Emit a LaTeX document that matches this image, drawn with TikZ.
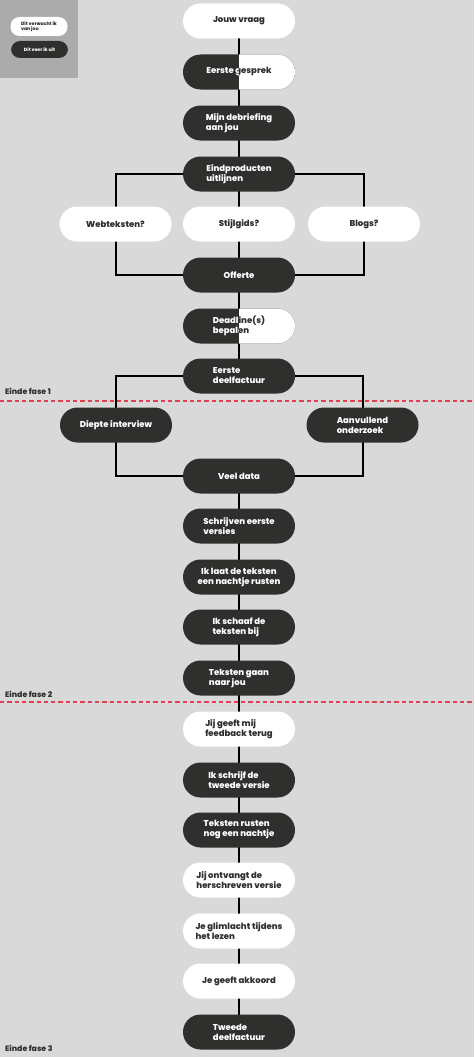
\documentclass[tikz,border=0pt]{standalone}
\usepackage{fontspec}
\setmainfont{Poppins}[BoldFont={Poppins ExtraBold}]
\usetikzlibrary{positioning}
\definecolor{bgc}{HTML}{D9D9D9}
\definecolor{legc}{HTML}{ABABAB}
\definecolor{darkc}{HTML}{2F2F2D}
\definecolor{redc}{HTML}{E0404F}
\pgfdeclarelayer{bglayer}
\pgfdeclarelayer{linelayer}
\pgfsetlayers{bglayer,linelayer,main}
\tikzset{
  pill/.style={rectangle, rounded corners=17.5pt, minimum width=112pt, minimum height=35pt,
    inner sep=0pt, font=\bfseries\fontsize{8.5}{10}\selectfont, align=left},
  darkpill/.style={pill, fill=darkc, text=white},
  whitepill/.style={pill, fill=white, text=darkc},
  conn/.style={draw=black, line width=2pt},
  phase/.style={draw=redc, line width=1.5pt, dash pattern=on 4.3pt off 3pt},
  phaselabel/.style={anchor=west, font=\bfseries\fontsize{7.8}{8}\selectfont, text=darkc, inner sep=0pt},
  legpill/.style={rectangle, rounded corners=9pt, minimum width=57pt, minimum height=18pt,
    inner sep=0pt, font=\bfseries\fontsize{4.6}{5.5}\selectfont, align=left}
}
\begin{document}
\begin{tikzpicture}[x=1pt,y=-1pt]
\useasboundingbox (0,0) rectangle (474,1057);
\begin{pgfonlayer}{bglayer}
  \fill[bgc] (0,0) rectangle (474,1057);
  \fill[legc] (0,0) rectangle (78,78);
\end{pgfonlayer}

% legend
\node[legpill, fill=white, text=darkc, minimum height=19pt] (legwhite) at (39,26.5) {Dit verwacht ik\\van jou};
\node[legpill, fill=darkc, text=white, minimum height=17pt] (legdark) at (39.5,49.5) {Dit voer ik uit};

% main column
\node[whitepill] (vraag) at (239,21) {Jouw vraag};
\node[darkpill] (gesprek) at (239,72) {Eerste gesprek};
\begin{scope}
  \clip (239,0) rectangle (474,1057);
  \node[whitepill] (gesprekR) at (239,72) {Eerste gesprek};
\end{scope}
\node[darkpill] (debrief) at (239,123) {Mijn debriefing\\aan jou};
\node[darkpill] (eind) at (239,174) {Eindproducten\\uitlijnen};
\node[whitepill] (web) at (115.5,224) {Webteksten?};
\node[whitepill] (stijl) at (239,224) {Stijlgids?};
\node[whitepill] (blogs) at (364,224) {Blogs?};
\node[darkpill] (offerte) at (239,275) {Offerte};
\node[darkpill] (deadline) at (239,326) {Deadline(s)\\bepalen};
\begin{scope}
  \clip (239,0) rectangle (474,1057);
  \node[whitepill] (deadlineR) at (239,326) {Deadline(s)\\bepalen};
\end{scope}
\node[darkpill] (fact1) at (239,376) {Eerste\\deelfactuur};
\node[darkpill] (diepte) at (116,425) {Diepte interview};
\node[darkpill] (aanv) at (362.5,425) {Aanvullend\\onderzoek};
\node[darkpill] (data) at (239,476) {Veel data};
\node[darkpill] (schrijven) at (239,526) {Schrijven eerste\\versies};
\node[darkpill, align=center] (laat) at (239,577) {Ik laat de teksten\\een nachtje rusten};
\node[darkpill] (schaaf) at (239,627) {Ik schaaf de\\teksten bij};
\node[darkpill] (gaan) at (239,678) {Teksten gaan\\naar jou};
\node[whitepill] (feedback) at (239,729) {Jij geeft mij\\feedback terug};
\node[darkpill] (schrijf) at (239,780) {Ik schrijf de\\tweede versie};
\node[darkpill] (rusten) at (239,830) {Teksten rusten\\nog een nachtje};
\node[whitepill] (ontvangt) at (239,880) {Jij ontvangt de\\herschreven versie};
\node[whitepill] (glim) at (239,931) {Je glimlacht tijdens\\het lezen};
\node[whitepill] (akkoord) at (239,981) {Je geeft akkoord};
\node[darkpill] (tweede) at (239,1032) {Tweede\\deelfactuur};

% connectors
\begin{pgfonlayer}{linelayer}
  \draw[conn] (vraag.center) -- (fact1.center);
  \draw[conn] (data.center) -- (tweede.center);
  \draw[conn] (eind.center) -| (web.center) |- (offerte.center);
  \draw[conn] (eind.center) -| (blogs.center) |- (offerte.center);
  \draw[conn] (fact1.center) -| (diepte.center) |- (data.center);
  \draw[conn] (fact1.center) -| (aanv.center) |- (data.center);
\end{pgfonlayer}

% phase lines
\coordinate (p1l) at (0,401);
\coordinate (p1r) at (474,401);
\coordinate (p2l) at (0,702);
\coordinate (p2r) at (474,702);
\draw[phase] (p1l) -- (p1r);
\draw[phase] (p2l) -- (p2r);
\node[phaselabel] (fase1) at (5,391) {Einde fase 1};
\node[phaselabel] (fase2) at (5,694) {Einde fase 2};
\node[phaselabel] (fase3) at (5,1048) {Einde fase 3};
\end{tikzpicture}
\end{document}
